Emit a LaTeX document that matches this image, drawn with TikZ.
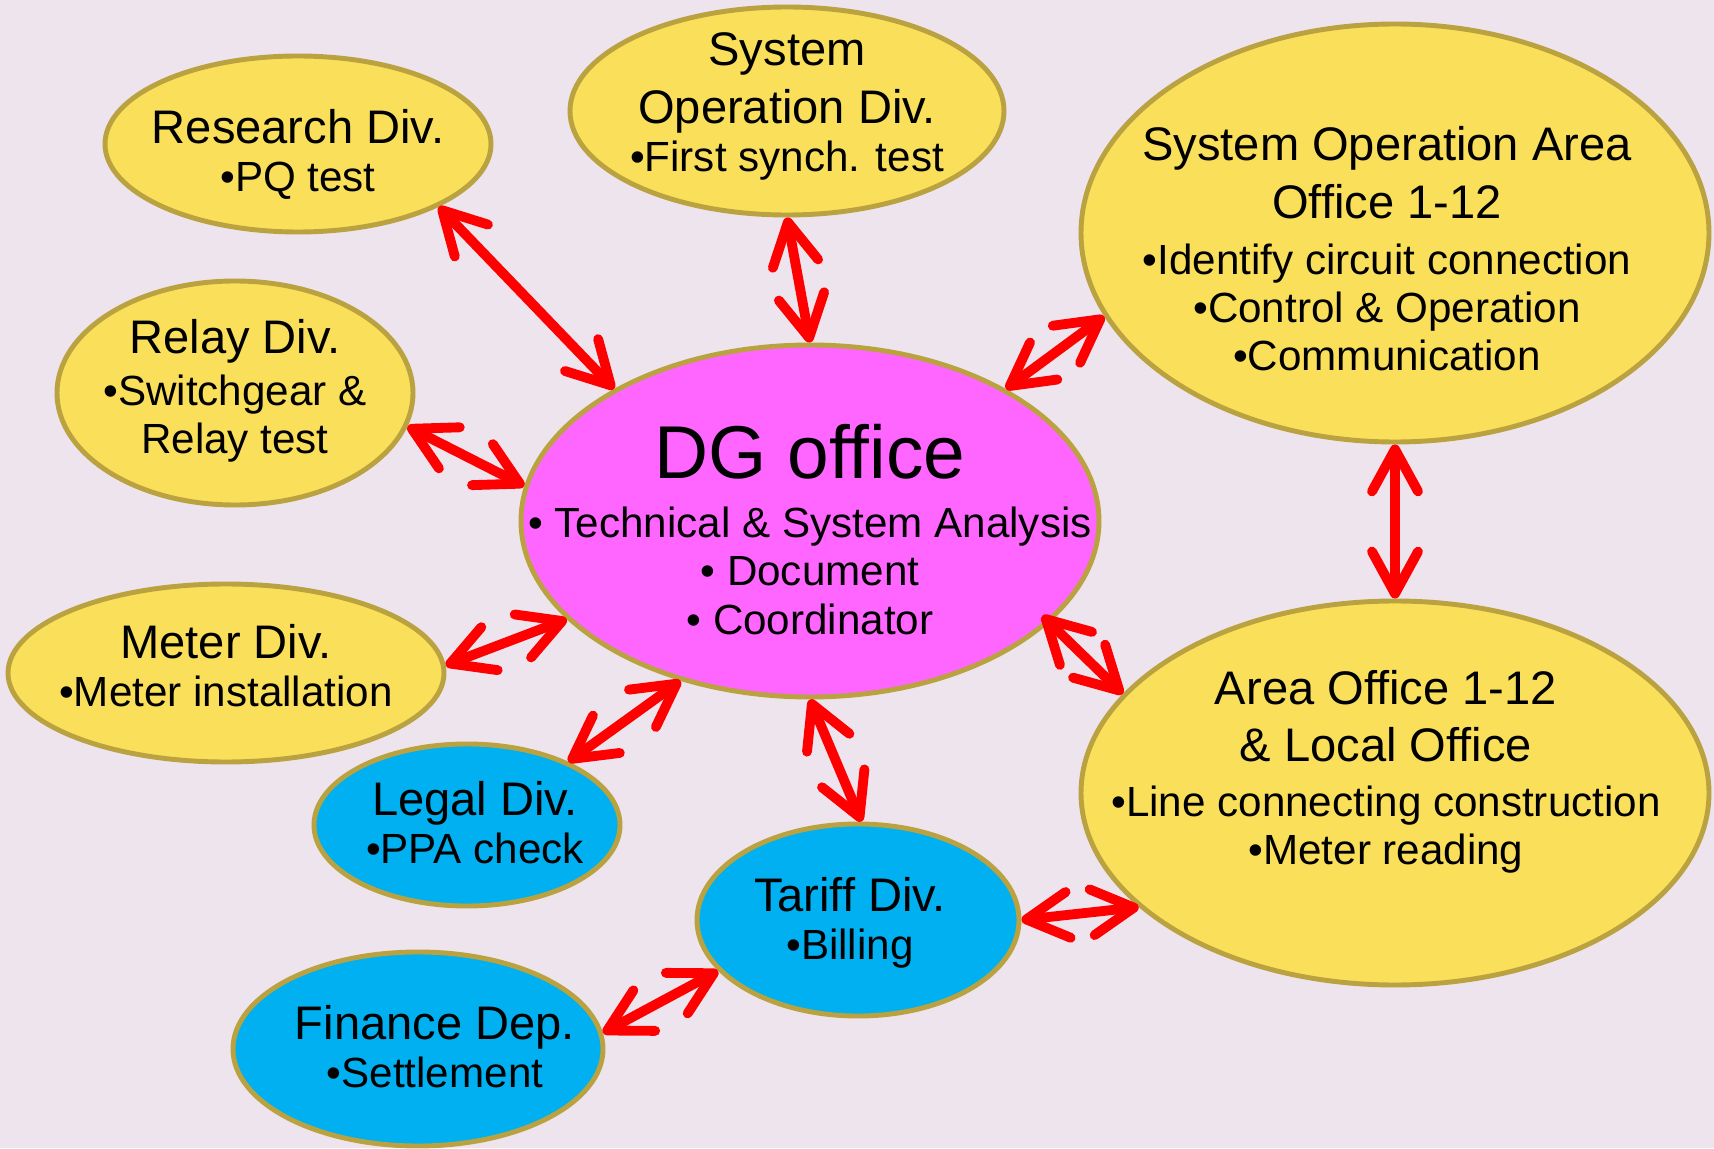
\documentclass[tikz,border=0pt]{standalone}
\usepackage{fontspec}
\setmainfont{Liberation Sans}
\usetikzlibrary{arrows.meta,shapes.geometric}
\definecolor{pageBg}{HTML}{EEE4EE}
\definecolor{ovYellow}{HTML}{FADF5A}
\definecolor{ovEdge}{HTML}{B9A23F}
\definecolor{dgPink}{HTML}{FF66FF}
\definecolor{ovBlue}{HTML}{00B0F0}
\definecolor{eRed}{rgb}{1,0,0}
\newcommand{\headsz}{\fontsize{13.4pt}{13.7pt}\selectfont}
\newcommand{\itemsz}{\fontsize{12pt}{13.7pt}\selectfont}
\newcommand{\bigsz}{\fontsize{21.3pt}{13.7pt}\selectfont}
\tikzset{ov/.style={ellipse, draw=ovEdge, line width=1.4pt, fill=ovYellow,
  inner sep=0pt}}
\tikzset{tx/.style={align=center, font=\itemsz, inner sep=0pt}}
\tikzset{ra/.style={draw, line width=2.8pt, eRed,
  {Straight Barb[length=4.2mm,width=4.6mm,round]}-{Straight Barb[length=4.2mm,width=4.6mm,round]}}}

\begin{document}
\begin{tikzpicture}
        \path[use as bounding box, fill=pageBg] (0,0) rectangle (17.14,11.48);
        %% offices
        \node (dg) at (8.10,6.27) [ov, fill=dgPink, minimum width=5.78cm, minimum height=3.52cm] {};
        \node (rsch) at (2.98,10.04) [ov, minimum width=3.86cm, minimum height=1.76cm] {};
        \node (sysop) at (7.87,10.37) [ov, minimum width=4.34cm, minimum height=2.08cm] {};
        \node (soao) at (13.95,9.15) [ov, minimum width=6.28cm, minimum height=4.18cm] {};
        \node (relay) at (2.35,7.55) [ov, minimum width=3.56cm, minimum height=2.24cm] {};
        \node (meter) at (2.26,4.75) [ov, minimum width=4.36cm, minimum height=1.78cm] {};
        \node (legal) at (4.67,3.23) [ov, fill=ovBlue, minimum width=3.06cm, minimum height=1.62cm] {};
        \node (tariff) at (8.58,2.28) [ov, fill=ovBlue, minimum width=3.22cm, minimum height=1.92cm] {};
        \node (area) at (13.95,3.55) [ov, minimum width=6.28cm, minimum height=3.84cm] {};
        \node (fin) at (4.18,0.99) [ov, fill=ovBlue, minimum width=3.70cm, minimum height=1.94cm] {};
        %% texts
        \node (dg-t) at ([yshift=-0.85mm]dg.center) [tx] {{\bigsz DG office}\\[3.1pt]
            • Technical \& System Analysis\\ • Document\\ • Coordinator};
        \node (rsch-t) at ([yshift=-1.05mm]rsch.center) [tx] {{\headsz Research Div.}\\ •PQ test};
        \node (sysop-t) at ([yshift=0.45mm]sysop.center) [tx] {{\headsz System}\\[2.8pt]
            {\headsz Operation Div.}\\ •First synch. test};
        \node (soao-t) at ([shift={(-0.8mm,-1.6mm)}]soao.center) [tx] {{\headsz System Operation Area}\\[2.8pt]
            {\headsz Office 1-12}\\[2.2pt] •Identify circuit connection\\ •Control \& Operation\\ •Communication};
        \node (relay-t) at ([yshift=0.2mm]relay.center) [tx] {{\headsz Relay Div.}\\[1pt]
            •Switchgear \&\\ Relay test};
        \node (meter-t) at ([yshift=0.7mm]meter.center) [tx] {{\headsz Meter Div.}\\ •Meter installation};
        \node (legal-t) at ([shift={(0.8mm,0.2mm)}]legal.center) [tx] {{\headsz Legal Div.}\\ •PPA check};
        \node (tariff-t) at ([shift={(-0.8mm,-0.3mm)}]tariff.center) [tx] {{\headsz Tariff Div.}\\ •Billing};
        \node (area-t) at ([shift={(-0.9mm,2.1mm)}]area.center) [tx] {{\headsz Area Office 1-12}\\[2.5pt]
            {\headsz \& Local Office}\\[2pt] •Line connecting construction\\ •Meter reading};
        \node (fin-t) at ([shift={(1.7mm,0.2mm)}]fin.center) [tx] {{\headsz Finance Dep.}\\ •Settlement};
        %% links
        \draw [ra] (rsch.-24) -- (dg.146);
        \draw [ra] (sysop.-90) -- (dg.90);
        \draw [ra] (soao.-164) -- (dg.34);
        \draw [ra] (relay.-11) -- (dg.173.5);
        \draw [ra] (soao.-90) -- (area.90);
        \draw [ra] (meter.2) -- (dg.-158);
        \draw [ra] (dg.-129) -- (legal.32);
        \draw [ra] (dg.-90) -- (tariff.88);
        \draw [ra, shorten <=-1mm] (dg.-23.5) -- (area.160);
        \draw [ra] (tariff.0) -- (area.-156);
        \draw [ra] (fin.5.6) -- (tariff.-160);
\end{tikzpicture}
\end{document}
